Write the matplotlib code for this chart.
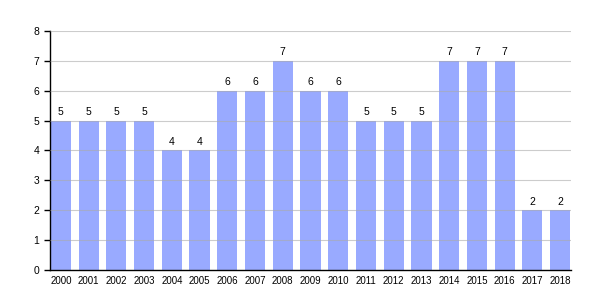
#!/usr/bin/env python3
# Bar chart of yearly counts, 2000-2018

import matplotlib
matplotlib.use('Agg')
import matplotlib.pyplot as plt

years = ['2000', '2001', '2002', '2003', '2004', '2005', '2006', '2007', '2008', '2009',
         '2010', '2011', '2012', '2013', '2014', '2015', '2016', '2017', '2018']
counts = [5, 5, 5, 5, 4, 4, 6, 6, 7, 6, 6, 5, 5, 5, 7, 7, 7, 2, 2]
y_ticks = [0, 1, 2, 3, 4, 5, 6, 7, 8]

plt.rcParams['font.family'] = ['Liberation Sans', 'DejaVu Sans']

fig = plt.figure(figsize=(6, 3), dpi=100)
ax = fig.add_axes([0.083, 0.1, 0.869, 0.797])

pos = list(range(len(years)))
bars = ax.bar(pos, counts, width=0.73, color='#99aaff', zorder=1)
for b, v in zip(bars, counts):
    ax.text(b.get_x() + b.get_width() / 2, v + 0.12, str(v),
            ha='center', va='bottom', fontsize=7.5)

ax.set_xlim(-0.4, 18.4)
ax.set_ylim(0, 8)
ax.set_yticks(y_ticks)
ax.set_xticks(pos)
ax.set_xticklabels(years)
ax.tick_params(axis='x', length=0, labelsize=7, pad=4)
ax.tick_params(axis='y', length=4, width=1, labelsize=7.5, direction='out')

ax.yaxis.grid(True, color='#aaaaaa', linewidth=0.8, alpha=0.6, zorder=2)
ax.set_axisbelow(False)
for side in ('top', 'right'):
    ax.spines[side].set_visible(False)
ax.spines['left'].set_linewidth(1)
ax.spines['bottom'].set_linewidth(1)

plt.savefig('out.png', dpi=100)
